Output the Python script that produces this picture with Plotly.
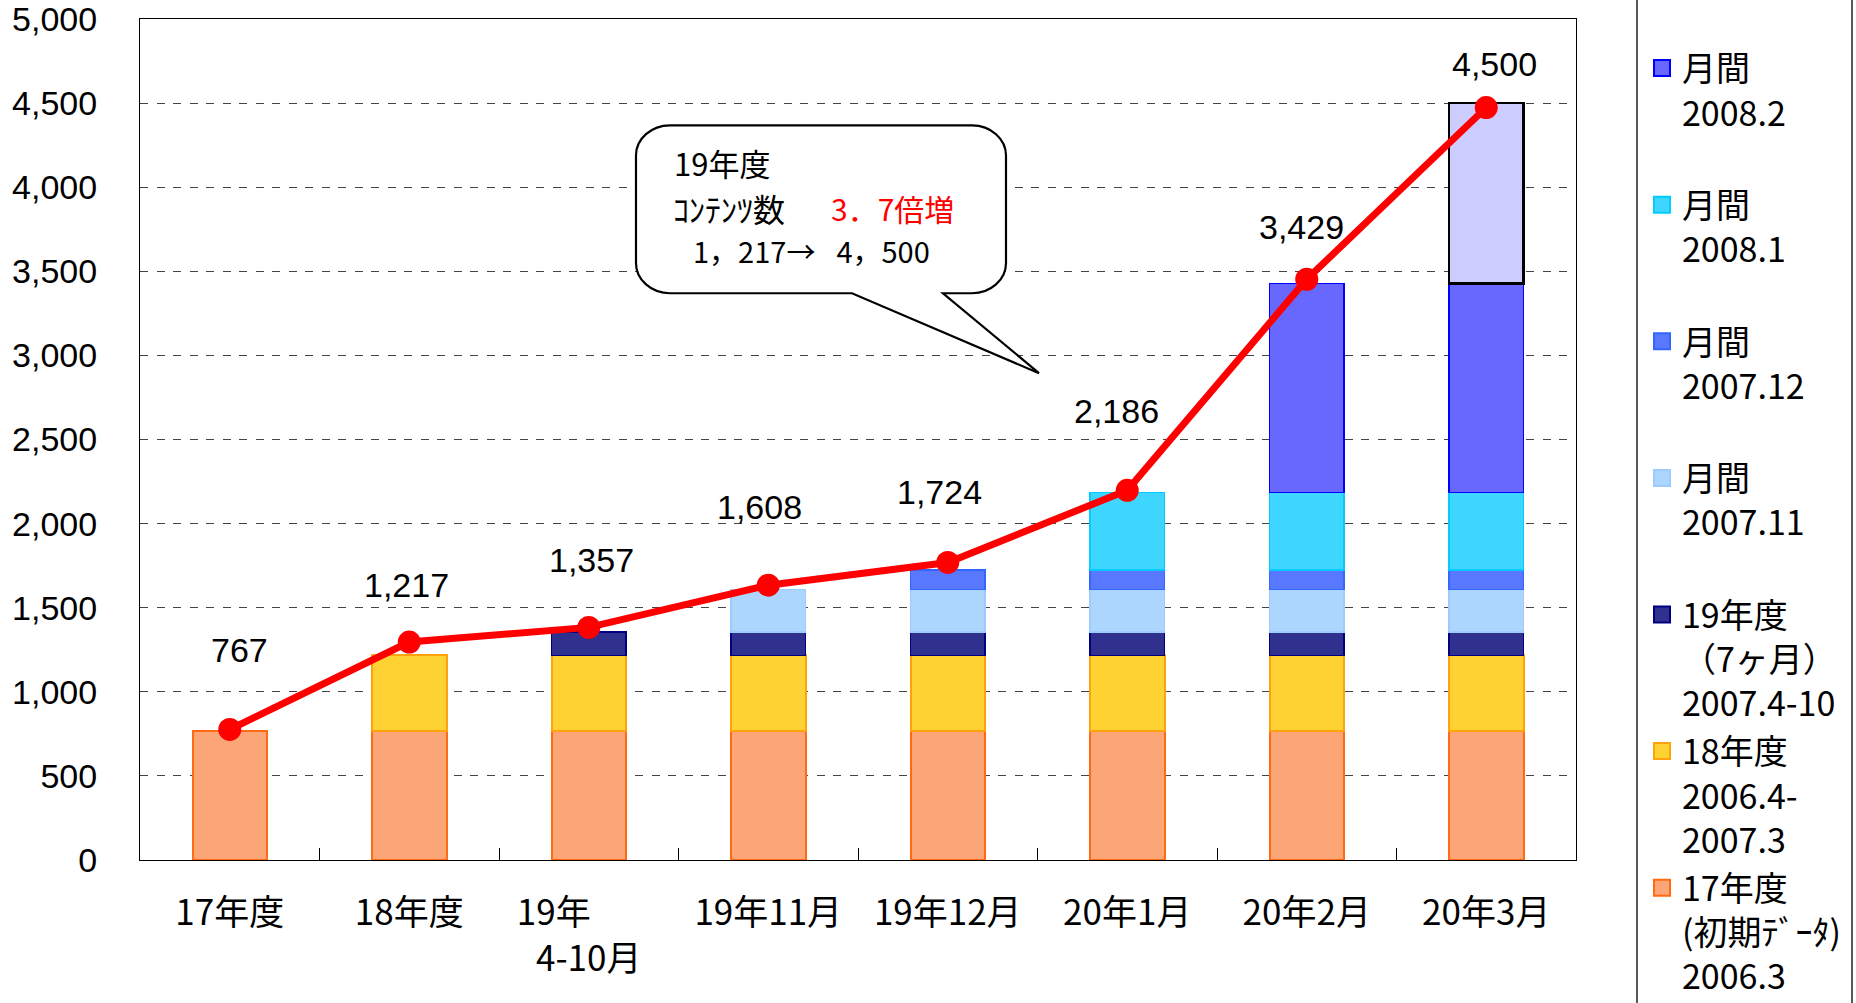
import plotly.graph_objects as go

# ---------------- data ----------------
categories = ["17年度", "18年度", "19年\u3000\u3000<br>4-10月", "19年11月",
              "19年12月", "20年1月", "20年2月", "20年3月"]

seg_17 = [767, 767, 767, 767, 767, 767, 767, 767]
seg_18 = [None, 450, 450, 450, 450, 450, 450, 450]
seg_19 = [None, None, 140, 140, 140, 140, 140, 140]
seg_0711 = [None, None, None, 251, 251, 251, 251, 251]
seg_0712 = [None, None, None, None, 116, 116, 116, 116]
seg_0801 = [None, None, None, None, None, 462, 462, 462]
seg_0802 = [None, None, None, None, None, None, 1243, 1243]
seg_0803 = [None, None, None, None, None, None, None, 1071]

totals = [767, 1217, 1357, 1608, 1724, 2186, 3429, 4500]
total_labels = ["767", "1,217", "1,357", "1,608", "1,724", "2,186", "3,429", "4,500"]
trend = [776, 1296, 1383, 1634, 1769, 2198, 3453, 4474]

y_ticks = [0, 500, 1000, 1500, 2000, 2500, 3000, 3500, 4000, 4500, 5000]
y_ticktext = ["0", "500", "1,000", "1,500", "2,000", "2,500", "3,000",
              "3,500", "4,000", "4,500", "5,000"]

legend_names = {
    "0802": "月間<br>2008.2<br> ",
    "0801": "月間<br>2008.1<br> ",
    "0712": "月間<br>2007.12<br> ",
    "0711": "月間<br>2007.11<br> ",
    "19": "19年度<br>（7ヶ月）<br>2007.4-10",
    "18": "18年度<br>2006.4-<br>2007.3",
    "17": "17年度<br>(初期ﾃﾞｰﾀ)<br>2006.3",
}

# ---------------- styles ----------------
styles = {
    "17": dict(fill="#FCA577", line="#FF6A13", lw=2),
    "18": dict(fill="#FDD232", line="#FFA20C", lw=2),
    "19": dict(fill="#30308F", line="#000080", lw=1.5),
    "0711": dict(fill="#ADD6FE", line="#9CCBFF", lw=1.5),
    "0712": dict(fill="#5878FF", line="#3366FF", lw=1.5),
    "0801": dict(fill="#3ED6FE", line="#00CCFF", lw=1.5),
    "0802": dict(fill="#6868FF", line="#0000FF", lw=1.5),
    "0803": dict(fill="#CCCCFF", line="#000000", lw=2.5),
}
stack = [("17", seg_17), ("18", seg_18), ("19", seg_19), ("0711", seg_0711),
         ("0712", seg_0712), ("0801", seg_0801), ("0802", seg_0802), ("0803", seg_0803)]

# label nudges (px): (dx, dy up)
label_nudge = [(10, 81), (-3, 70), (3, 72), (-9, 83), (-8, 78), (-11, 81), (-5, 56), (8, 39)]

# plot-area geometry in pixels
PL, PR, PT, PB = 140, 1576, 18.5, 860.3
W, H = PR - PL, PB - PT


def px_x(p):
    return (p - PL) / W


def px_y(p):
    return (PB - p) / H


fig = go.Figure()

for key, vals in stack:
    st = styles[key]
    fig.add_trace(go.Bar(
        x=categories, y=vals, width=0.415,
        marker=dict(color=st["fill"], line=dict(color=st["line"], width=st["lw"])),
        showlegend=False, hoverinfo="skip",
    ))

fig.add_trace(go.Scatter(
    x=categories, y=trend, mode="lines+markers",
    line=dict(color="#FF0000", width=7),
    marker=dict(color="#FF0000", size=23),
    showlegend=False, hoverinfo="skip",
))

# legend entries
for key in ["0802", "0801", "0712", "0711", "19", "18", "17"]:
    st = styles[key]
    fig.add_trace(go.Scatter(
        x=[None], y=[None], mode="markers", name=legend_names[key],
        legendgroup=key,
        marker=dict(symbol="square", size=16, color=st["fill"],
                    line=dict(color=st["line"], width=2)),
    ))

# data labels
for cat, val, txt, (dx, dy) in zip(categories, totals, total_labels, label_nudge):
    fig.add_annotation(x=cat, y=val, text=txt, showarrow=False,
                       xshift=dx, yshift=dy,
                       font=dict(family="Liberation Sans, Arial", size=34, color="#000000"))

# callout bubble
rx, ry = 34, 30
bx0, bx1, by0, by1 = 636, 1006, 125, 293
tail_l, tail_r, tip = 852, 943, (1039, 373)


def P(x, y):
    return f"{px_x(x):.5f},{px_y(y):.5f}"


path = (
    f"M{P(bx0 + rx, by0)} L{P(bx1 - rx, by0)} "
    f"C{P(bx1 - rx * 0.45, by0)} {P(bx1, by0 + ry * 0.45)} {P(bx1, by0 + ry)} "
    f"L{P(bx1, by1 - ry)} "
    f"C{P(bx1, by1 - ry * 0.45)} {P(bx1 - rx * 0.45, by1)} {P(bx1 - rx, by1)} "
    f"L{P(tail_r, by1)} L{P(tip[0], tip[1])} L{P(tail_l, by1)} "
    f"L{P(bx0 + rx, by1)} "
    f"C{P(bx0 + rx * 0.45, by1)} {P(bx0, by1 - ry * 0.45)} {P(bx0, by1 - ry)} "
    f"L{P(bx0, by0 + ry)} "
    f"C{P(bx0, by0 + ry * 0.45)} {P(bx0 + rx * 0.45, by0)} {P(bx0 + rx, by0)} Z"
)
fig.add_shape(type="path", path=path, xref="paper", yref="paper",
              fillcolor="#FFFFFF", line=dict(color="#000000", width=2.2), layer="above")

cjk = "Noto Sans CJK JP"
callout = [
    ("19年度", 673, 162, 31, "#000000"),
    ("ｺﾝﾃﾝﾂ数", 672, 208, 32, "#000000"),
    ("3．7倍増", 830, 208, 30, "#FF0000"),
    ("1，217→\u2002 4，500", 692, 250, 29, "#000000"),
]
for txt, x, y, sz, col in callout:
    fig.add_annotation(x=px_x(x), y=px_y(y), xref="paper", yref="paper",
                       xanchor="left", yanchor="middle", text=txt, showarrow=False,
                       borderpad=0,
                       font=dict(family=cjk, size=sz, color=col))

# legend frame lines
for xp in (1637, 1852):
    fig.add_shape(type="line", xref="paper", yref="paper",
                  x0=px_x(xp), x1=px_x(xp), y0=-0.3, y1=1.1,
                  line=dict(color="#222222", width=1.5))

fig.update_layout(
    width=1856, height=1003,
    barmode="stack",
    plot_bgcolor="#FFFFFF", paper_bgcolor="#FFFFFF",
    margin=dict(l=PL, r=1856 - PR, t=PT, b=1003 - PB, autoexpand=False),
    font=dict(family=cjk, color="#000000"),
    showlegend=True,
    legend=dict(
        x=px_x(1642), y=px_y(39), xanchor="left", yanchor="top",
        font=dict(family=cjk, size=34, color="#000000"),
        traceorder="grouped", tracegroupgap=1, valign="top",
        bgcolor="rgba(0,0,0,0)", borderwidth=0, itemwidth=30,
        maxheight=1000,
    ),
    xaxis=dict(
        type="category", showline=True, mirror=True, linecolor="#000000", linewidth=1,
        ticks="inside", tickson="boundaries", ticklen=12, tickcolor="#000000",
        showgrid=False, ticklabelstandoff=22,
        tickfont=dict(family=cjk, size=35, color="#000000"),
    ),
    yaxis=dict(
        range=[0, 5000.4], tickmode="array", tickvals=y_ticks, ticktext=y_ticktext,
        showline=True, mirror=True, linecolor="#000000", linewidth=1,
        showgrid=True, gridcolor="#444444", gridwidth=1.3, griddash="8px,8.5px",
        zeroline=False, ticks="", ticklabelstandoff=35, ticklabeloverflow="allow",
        tickfont=dict(family="Liberation Sans, Arial", size=34, color="#000000"),
    ),
)

fig.write_html("out.html", config={"displayModeBar": False},
               post_script="document.body.style.margin='0px';")
